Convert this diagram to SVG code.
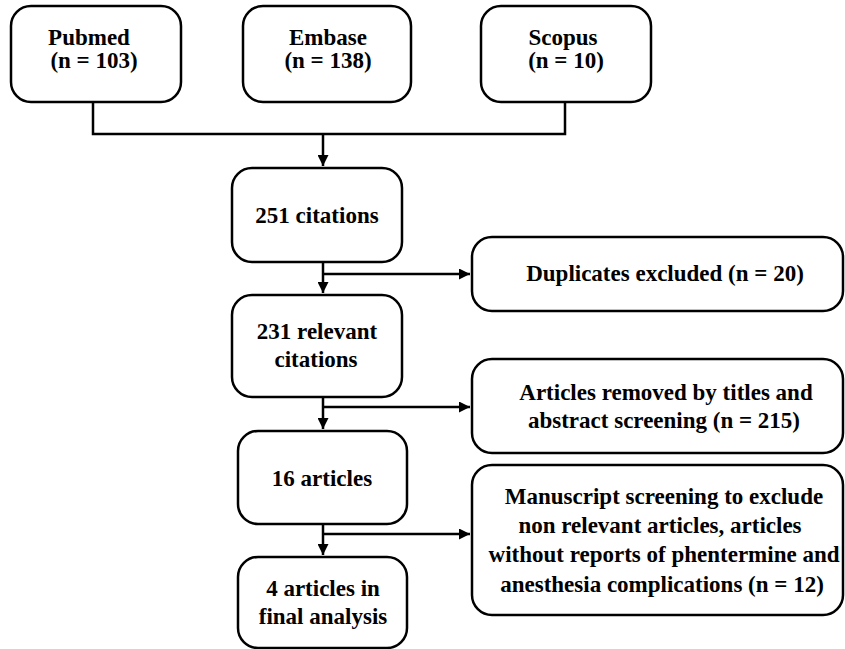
<svg xmlns="http://www.w3.org/2000/svg" width="845" height="649" viewBox="0 0 845 649">
<style>
.box{fill:#fff;stroke:#000;stroke-width:2.5}
.t{font-family:'Liberation Serif','Times New Roman',Tinos,'Nimbus Roman','DejaVu Serif',serif;font-weight:700;font-size:23px;fill:#000;text-anchor:middle}
.c{fill:none;stroke:#000;stroke-width:2.5}
</style>
<defs>
<marker id="ah" viewBox="0 0 10 10" refX="10" refY="5" markerWidth="4.4" markerHeight="4.4" markerUnits="strokeWidth" orient="auto">
<path d="M0,0 L10,5 L0,10 Z" fill="#000"/>
</marker>
</defs>
<rect width="845" height="649" fill="#fff"/>
<g id="connectors">
<path class="c" d="M93,102 V134 H565 V102"/>
<path class="c" d="M323,134 V166" marker-end="url(#ah)"/>
<path class="c" d="M323,262 V293" marker-end="url(#ah)"/>
<path class="c" d="M323,274 H470" marker-end="url(#ah)"/>
<path class="c" d="M323,397 V429" marker-end="url(#ah)"/>
<path class="c" d="M323,407 H470" marker-end="url(#ah)"/>
<path class="c" d="M323,524 V555" marker-end="url(#ah)"/>
<path class="c" d="M323,534 H470" marker-end="url(#ah)"/>
</g>
<g id="pubmed">
<rect class="box" x="11" y="6" width="170" height="96" rx="20"/>
<text class="t" x="89" y="45">Pubmed</text>
<text class="t" x="94" y="68">(n = 103)</text>
</g>
<g id="embase">
<rect class="box" x="243" y="6" width="168" height="96" rx="20"/>
<text class="t" x="328" y="45">Embase</text>
<text class="t" x="328" y="68">(n = 138)</text>
</g>
<g id="scopus">
<rect class="box" x="481" y="6" width="170" height="96" rx="20"/>
<text class="t" x="563" y="45">Scopus</text>
<text class="t" x="566" y="68">(n = 10)</text>
</g>
<g id="citations251">
<rect class="box" x="232" y="168" width="170" height="94" rx="20"/>
<text class="t" x="317" y="223">251 citations</text>
</g>
<g id="duplicates">
<rect class="box" x="472" y="237" width="371" height="74" rx="20"/>
<text class="t" x="665" y="281">Duplicates excluded (n = 20)</text>
</g>
<g id="relevant231">
<rect class="box" x="232" y="295" width="170" height="102" rx="20"/>
<text class="t" x="317" y="339">231 relevant</text>
<text class="t" x="316" y="367">citations</text>
</g>
<g id="removed">
<rect class="box" x="472" y="359" width="371" height="94" rx="20"/>
<text class="t" x="666" y="400">Articles removed by titles and</text>
<text class="t" x="664" y="428">abstract screening (n = 215)</text>
</g>
<g id="articles16">
<rect class="box" x="238" y="431" width="169" height="93" rx="20"/>
<text class="t" x="322" y="486">16 articles</text>
</g>
<g id="manuscript">
<rect class="box" x="472" y="465" width="371" height="150" rx="20"/>
<text class="t" x="664" y="504">Manuscript screening to exclude</text>
<text class="t" x="660" y="533">non relevant articles, articles</text>
<text class="t" x="664" y="562">without reports of phentermine and</text>
<text class="t" x="662" y="592">anesthesia complications (n = 12)</text>
</g>
<g id="final4">
<rect class="box" x="238" y="557" width="169" height="91" rx="20"/>
<text class="t" x="323" y="596">4 articles in</text>
<text class="t" x="323" y="624">final analysis</text>
</g>
</svg>
